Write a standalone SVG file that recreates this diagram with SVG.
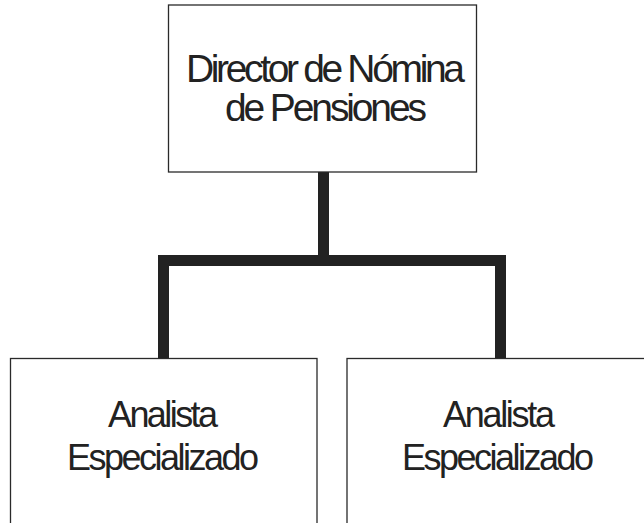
<svg xmlns="http://www.w3.org/2000/svg" width="644" height="523" viewBox="0 0 644 523">
<style>
.box{fill:#fff;stroke:#2a2a2a;stroke-width:1.3}
.t{font-family:"Liberation Sans",Arial,sans-serif;fill:#222;}
.big{font-size:39px}
.sm{font-size:36px}
.c{fill:#222}
</style>
<rect width="644" height="523" fill="#fff"/>
<g id="connectors">
<rect class="c" x="318" y="172" width="11" height="88"/>
<rect class="c" x="158" y="255" width="348" height="11"/>
<rect class="c" x="158" y="255" width="11" height="103"/>
<rect class="c" x="495" y="255" width="11" height="103"/>
</g>
<g id="director">
<rect class="box" x="168.5" y="5" width="308" height="167"/>
<text class="t big" x="186" y="82" textLength="279" lengthAdjust="spacing">Director de Nómina</text>
<text class="t big" x="225" y="121" textLength="202" lengthAdjust="spacing">de Pensiones</text>
</g>
<g id="analista1">
<rect class="box" x="10.5" y="358.5" width="306.5" height="200"/>
<text class="t sm" x="108" y="427" textLength="110" lengthAdjust="spacing">Analista</text>
<text class="t sm" x="67" y="470" textLength="192" lengthAdjust="spacing">Especializado</text>
</g>
<g id="analista2">
<rect class="box" x="347" y="358.5" width="320" height="200"/>
<text class="t sm" x="443" y="427" textLength="112" lengthAdjust="spacing">Analista</text>
<text class="t sm" x="402" y="470" textLength="192" lengthAdjust="spacing">Especializado</text>
</g>
</svg>
